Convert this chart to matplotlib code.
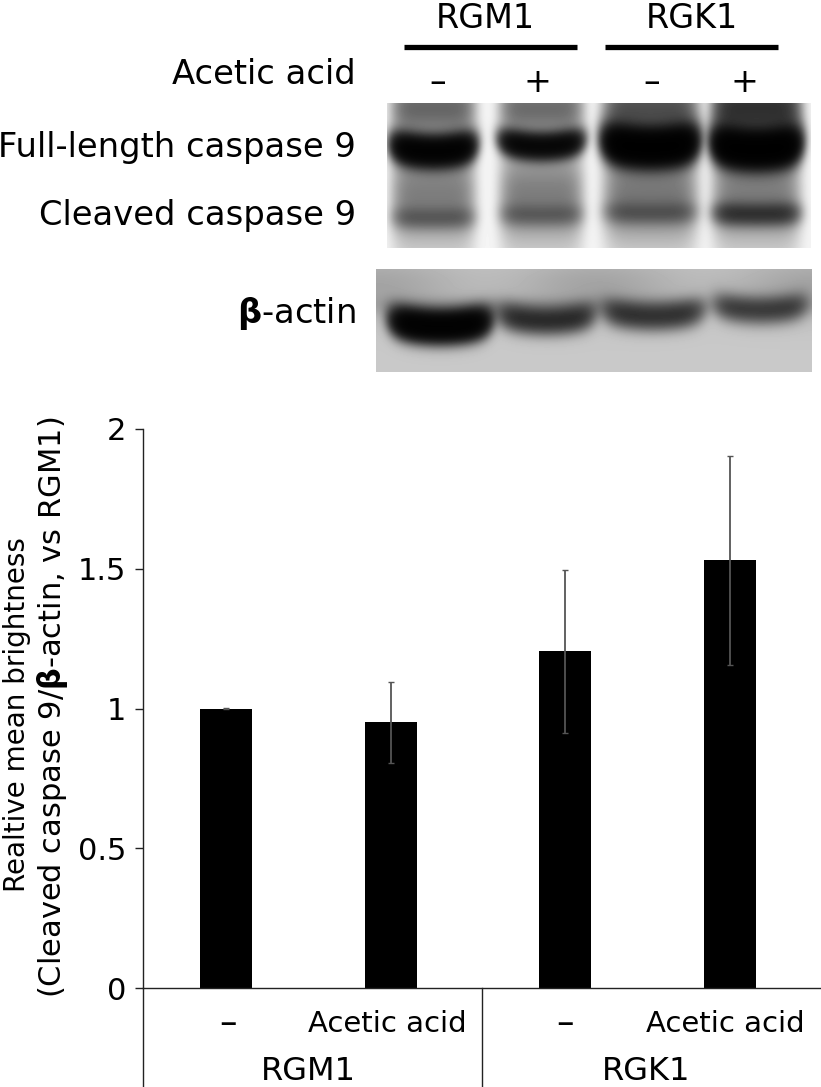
import numpy as np
import matplotlib
matplotlib.use("Agg")
import matplotlib.pyplot as plt

plt.rcParams['font.family'] = ['DejaVu Sans']
plt.rcParams['mathtext.fontset'] = 'dejavusans'

# ---- chart data
bar_values = [1.0, 0.95, 1.205, 1.53]
bar_errors = [0.003, 0.145, 0.292, 0.373]
bar_positions = [0.0, 1.0, 2.055, 3.055]
y_ticks = [0, 0.5, 1, 1.5, 2]
y_tick_labels = ['0', '0.5', '1', '1.5', '2']

# ---- blot data (one entry per lane, optical density)
lane_centers = [433, 541, 650, 756]
lane_halfwidths = [41, 41, 46, 43]
top_smear = [0.75, 0.70, 1.0, 1.5]
full_length_density = [4.2, 3.2, 5.5, 5.5]
full_length_y = [151, 146, 147, 149]
full_length_sigma = [14, 12, 17, 17]
mid_smear = [0.55, 0.55, 0.60, 0.55]
cleaved_density = [0.50, 0.45, 0.50, 1.05]
cleaved_y = [218, 215, 213, 214]
actin_lane_centers = [440, 546, 653, 760]
actin_halfwidths = [48, 47, 49, 45]
actin_density = [4.6, 1.5, 1.3, 1.05]
actin_y = [326, 320, 316, 310]
actin_sigma = [14, 13, 13, 13]


def lane_mask(X, center, half):
    return np.exp(-np.abs((X - center) / half) ** 6)


def upper_blot(X, Y):
    d = np.full_like(X, 0.04, dtype=float)
    for i, c in enumerate(lane_centers):
        m = lane_mask(X, c, lane_halfwidths[i])
        arc = 6 * ((X - c) / lane_halfwidths[i]) ** 2
        smear = (top_smear[i] * np.exp(-((Y - 108) / 24) ** 2)
                 + mid_smear[i] * np.exp(-((Y - 195) / 40) ** 2) + 0.12)
        band1 = full_length_density[i] * np.exp(-((Y - full_length_y[i] + arc) / full_length_sigma[i]) ** 2)
        band2 = cleaved_density[i] * np.exp(-((Y - cleaved_y[i] + arc * 0.2) / 11) ** 2)
        d += m * (smear + band1 + band2)
    return np.exp(-d)


def lower_blot(X, Y):
    d = 0.24 + 0.20 * np.exp(-((Y - 285) / 30) ** 2) * (0.7 + 0.3 * np.cos((X - 376) / 35))
    for i, c in enumerate(actin_lane_centers):
        m = lane_mask(X, c, actin_halfwidths[i])
        arc = 6 * ((X - c) / actin_halfwidths[i]) ** 2
        d = d + m * actin_density[i] * np.exp(-((Y - actin_y[i] + arc) / actin_sigma[i]) ** 2)
    d = d + 0.10 * np.exp(-((Y - 305) / 10) ** 2)
    return np.exp(-d)


fig = plt.figure(figsize=(8.21, 10.87), dpi=100)

ov = fig.add_axes([0, 0, 1, 1])
ov.axis('off')

x1, y1 = np.meshgrid(np.arange(387, 811), np.arange(103, 248))
ov.imshow(upper_blot(x1, y1), cmap='gray', vmin=0, vmax=1, extent=[387, 811, 248, 103],
          aspect='auto', interpolation='bilinear')
x2, y2 = np.meshgrid(np.arange(376, 812), np.arange(269, 372))
ov.imshow(lower_blot(x2, y2), cmap='gray', vmin=0, vmax=1, extent=[376, 812, 372, 269],
          aspect='auto', interpolation='bilinear')
ov.set_xlim(0, 821)
ov.set_ylim(1087, 0)

fs = 24.3
ov.plot([404, 577], [46.5, 46.5], color='black', lw=3.8, solid_capstyle='butt')
ov.plot([605, 778], [46.5, 46.5], color='black', lw=3.8, solid_capstyle='butt')
ov.text(485, 18, 'RGM1', fontsize=24, ha='center', va='center')
ov.text(692, 18, 'RGK1', fontsize=24, ha='center', va='center')
ov.text(356, 75, 'Acetic acid', fontsize=fs, ha='right', va='center')
for x, s in zip([438, 537, 652, 744], ['–', '+', '–', '+']):
    ov.text(x, 82, s, fontsize=24, ha='center', va='center')
ov.text(356, 147, 'Full-length caspase 9', fontsize=fs, ha='right', va='center')
ov.text(356, 216, 'Cleaved caspase 9', fontsize=fs, ha='right', va='center')
ov.text(356, 313, r'$\mathbf{\beta}$-actin', fontsize=fs, ha='right', va='center')

# bar chart
W, H = 821.0, 1087.0
ax = fig.add_axes([143 / W, (H - 988) / H, (W - 143) / W, (988 - 429) / H])
ax.patch.set_alpha(0)
px = 165.0
ax.set_xlim(-(226 - 143) / px, (821 - 226) / px)
ax.set_ylim(0, 2)
ax.bar(bar_positions, bar_values, width=52 / px, color='black')
ax.errorbar(bar_positions, bar_values, yerr=bar_errors, fmt='none', ecolor='#555555',
            elinewidth=1.3, capsize=2.2, capthick=1)
ax.set_yticks(y_ticks, y_tick_labels, fontsize=22)
ax.set_xticks([])
ax.tick_params(axis='y', length=6, width=1, pad=6, color='#222222')
for s in ['top', 'right']:
    ax.spines[s].set_visible(False)
for s in ['left', 'bottom']:
    ax.spines[s].set_color('#222222')
    ax.spines[s].set_linewidth(1)

ov.set_zorder(ax.get_zorder() + 1)
ov.patch.set_alpha(0)
ov.plot([143, 143], [988, 1087], color='#222222', lw=1)
ov.plot([482, 482], [988, 1087], color='#222222', lw=1)
sub = 21
for x, s, f in zip([228, 387, 565, 725], ['–', 'Acetic acid', '–', 'Acetic acid'], [25, sub, 25, sub]):
    ov.text(x, 1024, s, fontsize=f, ha='center', va='center')
ov.text(308, 1071, 'RGM1', fontsize=23, ha='center', va='center')
ov.text(646, 1071, 'RGK1', fontsize=23, ha='center', va='center')

ov.text(17, 715, 'Realtive mean brightness', fontsize=20, rotation=90, ha='center', va='center')
ov.text(53, 707, r'(Cleaved caspase 9/$\mathbf{\beta}$-actin, vs RGM1)', fontsize=22,
        rotation=90, ha='center', va='center')

fig.savefig('out.png', dpi=100)
